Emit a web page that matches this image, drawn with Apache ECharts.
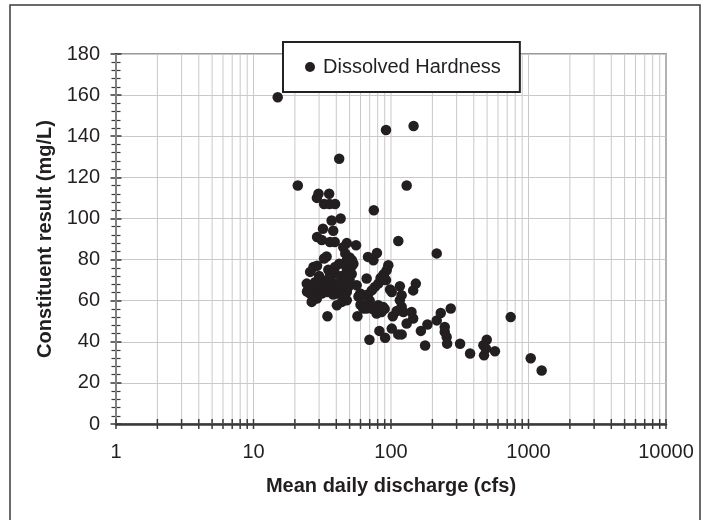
<!DOCTYPE html>
<html>
<head>
<meta charset="utf-8">
<script src="https://cdn.jsdelivr.net/npm/echarts@6/dist/echarts.min.js"></script>
<style>
  html, body { margin: 0; padding: 0; background: #fff; }
  #chart { width: 708px; height: 520px; }
</style>
</head>
<body>
<div id="chart"></div>
<script>
// Mean daily discharge (cfs) and dissolved hardness (mg/L) for each sample
const discharge = [
  15, 92, 146, 42, 21, 130,
  29.7, 28.9, 35.5, 32.6, 35.7, 39.2,
  75, 43, 37, 32, 38, 29, 31.4,
  36, 39, 47.7, 55.7, 45, 113, 215,
  34, 32.6, 50, 52, 53.3, 27.3, 39.2,
  46.5, 47.7, 49, 47.7, 51.8,
  68, 74.5, 79,
  29, 25.8, 24.4, 36, 39.2, 47.7, 50.6,
  31.4, 34.3, 37.1, 40.4, 41.4, 45, 49,
  27.3, 25.8, 31.4, 34.3, 40.4, 47.7,
  26.5, 28.9, 40.4, 43.9, 47.7, 34.5, 57,
  56.3, 59.7,
  95.6, 93, 87.6, 85.3, 80.8, 76.4, 72.4,
  66.5, 98.4, 116, 151.5, 145, 119.5,
  62.9, 64.7, 66.5, 62.9, 80.8, 87.6, 85.3, 78.6,
  101.3, 116, 119.5, 123, 103, 141, 145, 130,
  69.7, 82.3, 90.6, 101.3, 113, 119.5,
  165, 177, 184, 215, 230, 246, 246, 254, 256,
  272, 318, 376, 497, 470, 475, 570, 490,
  742, 1038, 1247,
  28, 30, 33, 36, 38, 43, 44, 46, 50, 52, 30, 35, 42,
  24.5, 27, 45, 58, 60, 68, 70, 73, 82, 90, 92, 89, 84, 110, 28.7
];
const hardness = [
  159, 143, 145, 129, 116, 116,
  112, 110, 112, 107, 107, 107,
  104, 100, 99, 95, 94, 91, 89.5,
  88.5, 88.5, 88, 87, 86, 89, 83,
  81.5, 80.5, 81, 79.7, 78, 76.4, 76.4,
  83, 79.7, 76.4, 73, 73,
  81.3, 79.7, 83.2,
  77, 74, 68.3, 72.4, 73.2, 75.6, 73.2,
  70, 68.3, 67.5, 68.3, 66, 66.7, 66.7,
  65, 63.5, 63.5, 64.2, 63.5, 64.2,
  59.4, 61, 57.8, 59.4, 60.2, 52.4, 52.4,
  67.5, 63.5,
  77.2, 74.8, 72.4, 70, 68.3, 66.7, 65,
  70.8, 65.4, 67, 68.3, 65, 62.6,
  62.6, 57.8, 56.2, 56.2, 57.8, 56.9, 54.5, 53.7,
  64.2, 60.2, 57, 54.5, 52.4, 54.5, 51.3, 48.9,
  41, 45.3, 42, 46.4, 43.6, 43.6,
  45.3, 38.2, 48.4, 50.4, 54, 47.2, 44.8, 42.3, 39.1,
  56.2, 39, 34.3, 41, 38.3, 33.4, 35.4, 36.7,
  52, 32, 26,
  69, 67, 66, 70.5, 63, 69, 72, 78, 70, 77, 72, 75, 78,
  64.5, 60.5, 62, 62, 58, 63, 60, 56, 55, 56, 70, 73, 71, 55, 66.5
];

// Axis settings
const yTicks = [0, 20, 40, 60, 80, 100, 120, 140, 160, 180];
const xDecades = [1, 10, 100, 1000, 10000];
// Log-axis gridlines / ticks at 1..9 of every decade
const xLogSteps = [1, 2, 3, 4, 5, 6, 7, 8, 9];

const seriesName = 'Dissolved Hardness';
const xTitle = 'Mean daily discharge (cfs)';
const yTitle = 'Constituent result (mg/L)';

const xGridValues = [];
for (let d = 0; d < xDecades.length - 1; d++) {
  xLogSteps.forEach(s => xGridValues.push(xDecades[d] * s));
}
xGridValues.push(xDecades[xDecades.length - 1]);

const points = discharge.map((q, i) => [q, hardness[i]]);

const font = "'Liberation Sans', Arial, sans-serif";
const ink = '#231f20';
const gridGray = '#c9c9c9';

const chart = echarts.init(document.getElementById('chart'));
chart.setOption({
  animation: false,
  backgroundColor: '#fff',
  textStyle: { fontFamily: font, color: ink },
  graphic: [{
    type: 'rect',
    shape: { x: 10, y: 5, width: 690, height: 525 },
    style: { fill: 'none', stroke: '#3a3a3a', lineWidth: 1.5 },
    silent: true
  }],
  grid: {
    left: 116, top: 54, width: 550, height: 370,
    show: true, borderColor: '#9a9a9a', borderWidth: 2,
    backgroundColor: 'transparent'
  },
  legend: {
    left: 283, top: 42,
    padding: [15, 19, 15, 22],
    backgroundColor: '#fff',
    borderColor: '#222', borderWidth: 2,
    itemWidth: 10, itemHeight: 10,
    textStyle: { fontSize: 20, fontFamily: font, color: ink, padding: [0, 0, 0, 3] },
    data: [{ name: seriesName, icon: 'circle' }]
  },
  xAxis: {
    type: 'log', logBase: 10, min: 1, max: 10000,
    name: xTitle, nameLocation: 'middle', nameGap: 52,
    nameTextStyle: { fontSize: 20, fontWeight: 'bold', color: ink, fontFamily: font },
    axisLine: { lineStyle: { color: '#3a3a3a', width: 2.5 } },
    axisTick: { show: false },
    splitLine: { show: false },
    axisLabel: {
      fontSize: 20, color: ink, margin: 18, fontFamily: font,
      formatter: v => (xDecades.indexOf(v) >= 0 ? String(v) : '')
    }
  },
  yAxis: [{
    type: 'value', min: 0, max: 180, interval: 20, position: 'left',
    name: yTitle, nameLocation: 'middle', nameGap: 60,
    nameTextStyle: { fontSize: 20, fontWeight: 'bold', color: ink, fontFamily: font },
    axisLine: { show: true, lineStyle: { color: '#3a3a3a', width: 2 } },
    axisTick: { show: true, length: 5.5, lineStyle: { color: '#3a3a3a', width: 1.5 } },
    minorTick: { show: true, splitNumber: 5, length: 4.5, lineStyle: { color: '#3a3a3a', width: 1.2 } },
    splitLine: { show: true, lineStyle: { color: gridGray, width: 1 } },
    axisLabel: {
      fontSize: 20, color: ink, margin: 16, fontFamily: font,
      formatter: v => (yTicks.indexOf(v) >= 0 ? String(v) : '')
    }
  }, {
    // mirror ticks on the inner side so they cross the axis line
    type: 'value', min: 0, max: 180, interval: 20, position: 'left', offset: 0,
    axisLine: { show: false },
    axisTick: { show: true, inside: true, length: 5.5, lineStyle: { color: '#3a3a3a', width: 1.5 } },
    minorTick: { show: true, splitNumber: 5, length: 4.5, lineStyle: { color: '#3a3a3a', width: 1.2 } },
    splitLine: { show: false },
    axisLabel: { show: false }
  }],
  series: [{
    // log-scale gridlines and crossing ticks on the discharge axis
    type: 'custom',
    xAxisIndex: 0, yAxisIndex: 0,
    clip: false, silent: true, z: 1,
    data: xGridValues.map(v => [v, 0]),
    renderItem: function (params, api) {
      const v = api.value(0);
      const bottom = api.coord([v, 0]);
      const top = api.coord([v, 180]);
      const children = [{
        type: 'line',
        shape: { x1: bottom[0], y1: bottom[1], x2: top[0], y2: top[1] },
        style: { stroke: gridGray, lineWidth: 1 }
      }, {
        type: 'line',
        shape: { x1: bottom[0], y1: bottom[1] - 5, x2: bottom[0], y2: bottom[1] + 5 },
        style: { stroke: '#3a3a3a', lineWidth: 1.5 }
      }];
      return { type: 'group', children: children };
    }
  }, {
    name: seriesName,
    type: 'scatter',
    xAxisIndex: 0, yAxisIndex: 0,
    symbol: 'circle', symbolSize: 10.5,
    itemStyle: { color: ink, opacity: 1 },
    z: 3,
    data: points
  }]
});
</script>
</body>
</html>
